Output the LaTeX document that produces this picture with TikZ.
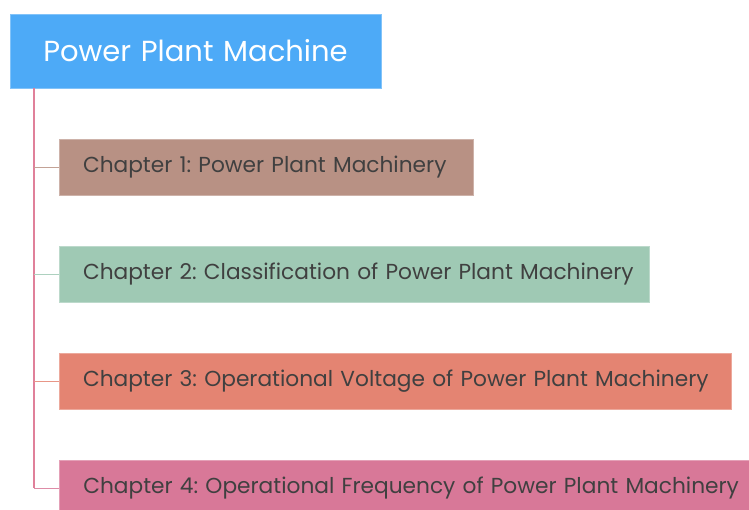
\documentclass[tikz,border=0pt]{standalone}
\usepackage{fontspec}
\setmainfont{Poppins}
\frenchspacing
\definecolor{rootc}{HTML}{4DAAF7}
\definecolor{cA}{HTML}{B89184}
\definecolor{cB}{HTML}{9FC9B4}
\definecolor{cC}{HTML}{E48472}
\definecolor{cD}{HTML}{D87898}
\definecolor{txt}{HTML}{404040}
\definecolor{trunk}{HTML}{E0809A}
\begin{document}
\begin{tikzpicture}[x=1pt,y=-1pt,
  rootbox/.style={rectangle, fill=rootc, draw=rootc!70!white, line width=0.6pt, text=white, minimum height=74pt, text width=335pt, inner xsep=18pt, inner ysep=0pt, align=center, font=\fontsize{29}{32}\selectfont},
  chapbox/.style={rectangle, draw=#1!70!white, line width=0.6pt, fill=#1, text=txt, minimum height=56pt, inner xsep=24pt, inner ysep=0pt, align=left, font=\fontsize{21.7}{24}\selectfont},
  stub/.style={draw=#1!85!white, line width=1pt},
]
\useasboundingbox (0,0) rectangle (749,509);
\node[rootbox] (root) at (195.5,51) {Power Plant Machine};
\node[chapbox=cA, text width=366pt] (c1) at (266,167) {\mbox{Chapter 1: Power Plant Machinery}};
\node[chapbox=cB, text width=542pt] (c2) at (354,274) {\mbox{Chapter 2: Classification of Power Plant Machinery}};
\node[chapbox=cC, text width=624pt] (c3) at (395,381) {\mbox{Chapter 3: Operational Voltage of Power Plant Machinery}};
\node[chapbox=cD, text width=690pt, anchor=west] (c4) at (59,488) {\mbox{Chapter 4: Operational Frequency of Power Plant Machinery}};
\coordinate (top) at (34,88);
\coordinate (j1) at (34,167);
\coordinate (j2) at (34,274);
\coordinate (j3) at (34,381);
\coordinate (j4) at (34,488);
\draw[trunk, line width=1.3pt] (top) -- (j4);
\draw[stub=cA] (j1) -- (c1.west);
\draw[stub=cB] (j2) -- (c2.west);
\draw[stub=cC] (j3) -- (c3.west);
\draw[stub=cD] (j4) -- (c4.west);
\end{tikzpicture}
\end{document}
